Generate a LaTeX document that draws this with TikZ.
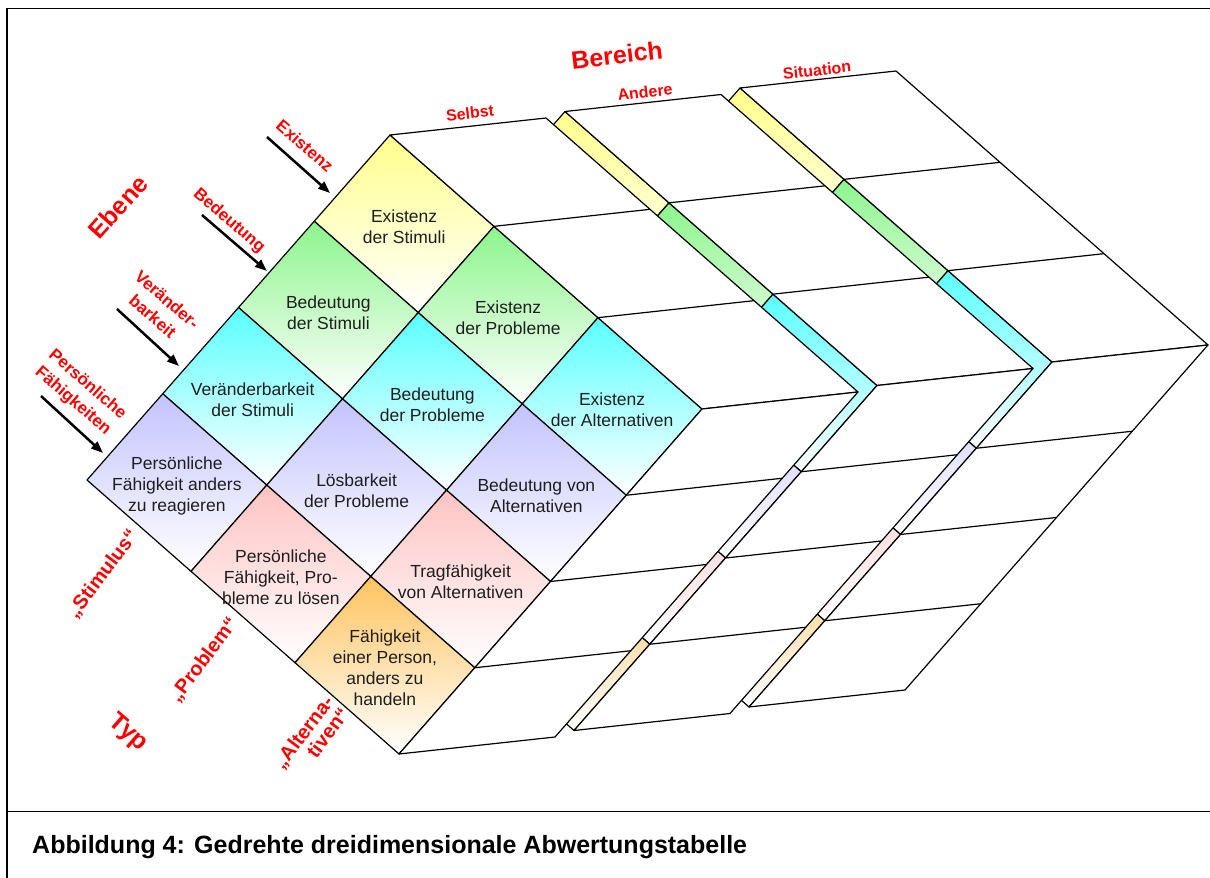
\documentclass[tikz,border=0pt]{standalone}
\usepackage{fontspec}
\setmainfont{Liberation Sans}
\usetikzlibrary{arrows.meta,calc}
\definecolor{lev0}{RGB}{255,255,140}
\definecolor{lev1}{RGB}{140,245,140}
\definecolor{lev2}{RGB}{90,255,255}
\definecolor{lev3}{RGB}{195,195,255}
\definecolor{lev4}{RGB}{255,195,195}
\definecolor{lev5}{RGB}{255,195,95}
\definecolor{lblred}{RGB}{255,0,0}
\definecolor{celltext}{RGB}{30,30,30}
\begin{document}
\begin{tikzpicture}[x=1pt,y=-1pt,
  cellline/.style={draw=black,line width=1.2pt,line join=round},
  celltxt/.style={align=center,text=celltext,font=\fontsize{17.5}{21}\selectfont,inner sep=0pt},
  bigred/.style={text=lblred,font=\bfseries\fontsize{25}{30}\selectfont,inner sep=0pt},
  subred/.style={text=lblred,font=\bfseries\fontsize{17}{22}\selectfont,inner sep=0pt,align=center},
  typred/.style={text=lblred,font=\bfseries\fontsize{20}{20}\selectfont,inner sep=0pt},
  arealbl/.style={text=lblred,font=\bfseries\fontsize{16}{19}\selectfont,inner sep=0pt},
  pointer/.style={line width=2.5pt,-{Triangle[length=12pt,width=9pt]}},
  frameline/.style={line width=1.6pt}]
\useasboundingbox (0,0) rectangle (1210,878);
% grid points of the three slabs (front p, back q)
\foreach \k in {0,1,2}{
  \foreach \i in {0,...,4}{
    \foreach \j in {0,...,3}{
      \coordinate (p\k-\i-\j) at ({390+175*\k-75.75*\i+104*\j},{135-23.5*\k+86.25*\i+91.33*\j});
      \coordinate (q\k-\i-\j) at ({546+175*\k-75.75*\i+104*\j},{118-23.5*\k+86.25*\i+91.33*\j});
    }
  }
}
% slabs, back to front
\foreach \k in {2,1,0}{
  \foreach \i in {0,...,3}{
    \foreach \j in {0,...,2}{
      \pgfmathtruncatemacro\lev{\i+\j}
      \pgfmathtruncatemacro\ii{\i+1}
      \pgfmathtruncatemacro\jj{\j+1}
      \shadedraw[cellline,top color=lev\lev,bottom color=white]
        (p\k-\i-\j) -- (p\k-\ii-\j) -- (p\k-\ii-\jj) -- (p\k-\i-\jj) -- cycle;
    }
  }
  \filldraw[cellline,fill=white] (p\k-0-0) -- (p\k-0-3) -- (q\k-0-3) -- (q\k-0-0) -- cycle;
  \draw[cellline] (p\k-0-1) -- (q\k-0-1) (p\k-0-2) -- (q\k-0-2);
  \filldraw[cellline,fill=white] (p\k-0-3) -- (p\k-4-3) -- (q\k-4-3) -- (q\k-0-3) -- cycle;
  \draw[cellline] (p\k-1-3) -- (q\k-1-3) (p\k-2-3) -- (q\k-2-3) (p\k-3-3) -- (q\k-3-3);
}
% cell texts
\node[celltxt] (c00) at ($(p0-0-0)!0.5!(p0-1-1)+(0,3)$) {Existenz\\der Stimuli};
\node[celltxt] (c10) at ($(p0-1-0)!0.5!(p0-2-1)+(0,3)$) {Bedeutung\\der Stimuli};
\node[celltxt] (c01) at ($(p0-0-1)!0.5!(p0-1-2)+(0,3)$) {Existenz\\der Probleme};
\node[celltxt] (c20) at ($(p0-2-0)!0.5!(p0-3-1)+(0,3)$) {Veränderbarkeit\\der Stimuli};
\node[celltxt] (c11) at ($(p0-1-1)!0.5!(p0-2-2)+(0,3)$) {Bedeutung\\der Probleme};
\node[celltxt] (c02) at ($(p0-0-2)!0.5!(p0-1-3)+(0,3)$) {Existenz\\der Alternativen};
\node[celltxt] (c30) at ($(p0-3-0)!0.5!(p0-4-1)+(0,3)$) {Persönliche\\Fähigkeit anders\\zu reagieren};
\node[celltxt] (c21) at ($(p0-2-1)!0.5!(p0-3-2)+(0,3)$) {Lösbarkeit\\der Probleme};
\node[celltxt] (c12) at ($(p0-1-2)!0.5!(p0-2-3)+(0,3)$) {Bedeutung von\\Alternativen};
\node[celltxt] (c31) at ($(p0-3-1)!0.5!(p0-4-2)+(0,3)$) {Persönliche\\Fähigkeit, Pro-\\bleme zu lösen};
\node[celltxt] (c22) at ($(p0-2-2)!0.5!(p0-3-3)+(0,3)$) {Tragfähigkeit\\von Alternativen};
\node[celltxt] (c32) at ($(p0-3-2)!0.5!(p0-4-3)+(0,3)$) {Fähigkeit\\einer Person,\\anders zu\\handeln};
% Bereich labels
\node[bigred,rotate=6.5] (bereich) at (617,55) {Bereich};
\node[arealbl,rotate=6.5] (selbst) at (470,113) {Selbst};
\node[arealbl,rotate=6.5] (andere) at (645,92) {Andere};
\node[arealbl,rotate=6.5] (situation) at (817,70) {Situation};
% Ebene labels
\node[bigred,rotate=48] (ebene) at (118,207) {Ebene};
\node[subred,rotate=-41] (lexist) at (305,146) {Existenz};
\node[subred,rotate=-41] (lbedeut) at (229,221) {Bedeutung};
\node[subred,rotate=-41] (lveraend) at (160,308) {Veränder-\\barkeit};
\node[subred,rotate=-41] (lpers) at (80,393) {Persönliche\\Fähigkeiten};
\coordinate (a1s) at (267,137); \coordinate (a1e) at (330,193);
\coordinate (a2s) at (202,215); \coordinate (a2e) at (267,271);
\coordinate (a3s) at (117,309); \coordinate (a3e) at (179,366);
\coordinate (a4s) at (41,396);  \coordinate (a4e) at (103,453);
\draw[pointer] (a1s) -- (a1e);
\draw[pointer] (a2s) -- (a2e);
\draw[pointer] (a3s) -- (a3e);
\draw[pointer] (a4s) -- (a4e);
% Typ labels
\node[bigred,rotate=-41] (typ) at (128,733) {Typ};
\node[typred,rotate=53] (lstim) at (103,574) {„Stimulus“};
\node[typred,rotate=53] (lprob) at (204,660) {„Problem“};
\node[typred,rotate=53,align=right] (lalt) at (311,738) {„Alterna-\\tiven“};
% frame and caption
\coordinate (fTL) at (7,8.5); \coordinate (fTR) at (1210,8.5);
\coordinate (fBL) at (7,878); \coordinate (fML) at (7,811.5); \coordinate (fMR) at (1210,811.5);
\draw[frameline] (fTR) -- (fTL) -- (fBL);
\draw[frameline] (fML) -- (fMR);
\node[anchor=base west,inner sep=0pt,font=\bfseries\fontsize{25}{29}\selectfont] (caption) at (32,853) {Abbildung 4: Gedrehte dreidimensionale Abwertungstabelle};
\end{tikzpicture}
\end{document}
